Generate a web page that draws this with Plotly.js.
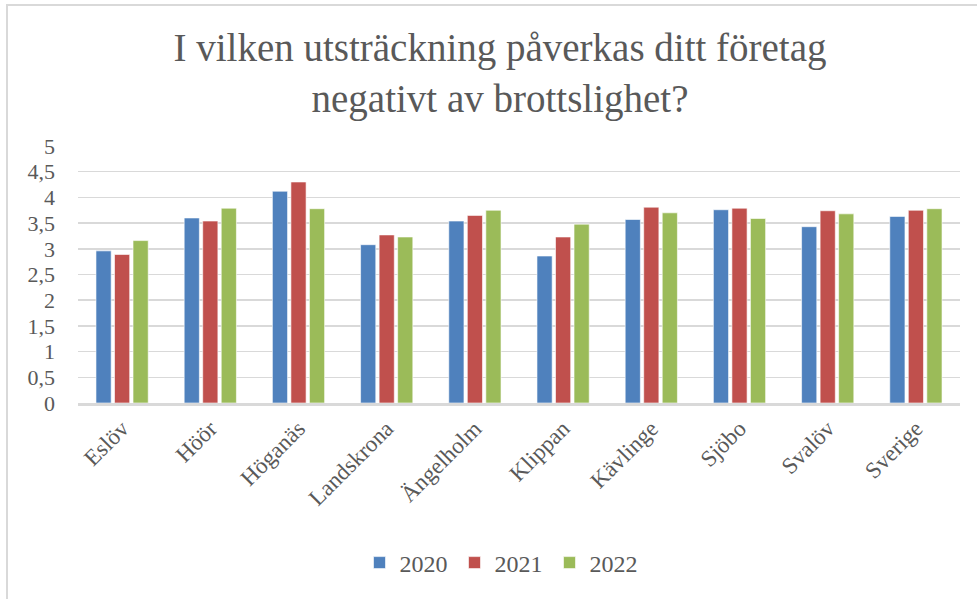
<!DOCTYPE html>
<html>
<head>
<meta charset="utf-8">
<script src="https://cdn.plot.ly/plotly-3.0.1.min.js"></script>
<style>
  html, body { margin: 0; padding: 0; background: #fff; }
  #wrap { position: relative; width: 977px; height: 599px; overflow: hidden; }
  #chart { width: 977px; height: 599px; }
  #frame { position: absolute; left: 6px; top: 4px; width: 1200px; height: 800px;
           border-left: 2px solid #D9D9D9; border-top: 2px solid #D9D9D9; pointer-events: none; }
</style>
</head>
<body>
<div id="wrap">
  <div id="chart"></div>
  <div id="frame"></div>
</div>
<script>
const categories = ["Eslöv", "Höör", "Höganäs", "Landskrona", "Ängelholm", "Klippan", "Kävlinge", "Sjöbo", "Svalöv", "Sverige"];
const values2020 = [2.96, 3.60, 4.12, 3.08, 3.54, 2.86, 3.57, 3.76, 3.43, 3.63];
const values2021 = [2.89, 3.54, 4.30, 3.27, 3.65, 3.23, 3.81, 3.79, 3.74, 3.75];
const values2022 = [3.16, 3.79, 3.78, 3.23, 3.75, 3.48, 3.70, 3.59, 3.68, 3.78];
const seriesNames = ["2020", "2021", "2022"];
const seriesColors = ["#4F81BD", "#C0504D", "#9BBB59"];
const yTicks = [0, 0.5, 1, 1.5, 2, 2.5, 3, 3.5, 4, 4.5, 5];
const titleText = "I vilken utsträckning påverkas ditt företag<br>negativt av brottslighet?";

const FONT = "Liberation Serif, Times New Roman, serif";
const series = [values2020, values2021, values2022];
const traces = series.map((vals, i) => ({
  type: "bar",
  name: seriesNames[i],
  x: categories,
  y: vals,
  marker: { color: seriesColors[i], line: { color: "rgba(255,255,255,0.6)", width: 1 } },
  hoverinfo: "x+y+name"
}));

const layout = {
  width: 977,
  height: 599,
  margin: { l: 78, r: 17, t: 146, b: 196 },
  paper_bgcolor: "rgba(0,0,0,0)",
  plot_bgcolor: "#fff",
  separators: ", ",
  barmode: "group",
  bargap: 0.37,
  bargroupgap: 0.18,
  font: { family: FONT, color: "#595959", size: 22 },
  title: {
    text: titleText,
    font: { family: FONT, size: 39, color: "#595959" },
    x: 500 / 977, xref: "container", xanchor: "center",
    y: 1 - 61 / 599, yref: "container", yanchor: "middle"
  },
  xaxis: {
    type: "category",
    tickangle: -45,
    tickfont: { family: FONT, size: 23, color: "#595959" },
    showline: true, linecolor: "#D9D9D9", linewidth: 3,
    showgrid: false, ticks: "", ticklabelstandoff: 0,
    fixedrange: true
  },
  yaxis: {
    range: [0, 5],
    tickvals: yTicks,
    tickformat: ".1~f",
    tickfont: { family: FONT, size: 22, color: "#595959" },
    showgrid: true, gridcolor: "#D9D9D9", gridwidth: 1.5,
    zeroline: false, showline: false, ticks: "",
    ticklabelstandoff: 22,
    fixedrange: true
  },
  showlegend: true,
  legend: {
    orientation: "h",
    x: 502 / 977, xref: "container", xanchor: "center",
    y: 1 - 563 / 599, yref: "container", yanchor: "middle",
    font: { family: FONT, size: 24, color: "#595959" },
    entrywidth: 50, entrywidthmode: "pixels",
    itemwidth: 30
  }
};

Plotly.newPlot("chart", traces, layout, { displayModeBar: false, staticPlot: true });
</script>
</body>
</html>
